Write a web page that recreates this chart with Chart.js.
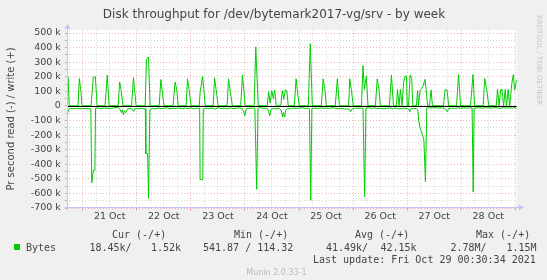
<!DOCTYPE html>
<html>
<head>
<meta charset="utf-8">
<script src="https://cdn.jsdelivr.net/npm/chart.js@4.4.1/dist/chart.umd.min.js"></script>
<style>
  html, body { margin: 0; padding: 0; background: #F0F0F0; }
  canvas { display: block; }
</style>
</head>
<body>
<canvas id="diskChart" width="547" height="280"></canvas>
<script>
// Time axis: hours since 20 Oct 00:00. Values in k (1000 bytes/s).
const writeHours = [
  16.94, 17.5, 18.0,
  21.9, 22.5, 23.1, 23.7,
  27.7, 28.7, 29.6, 30.4,
  33.9, 34.9, 35.7,
  39.7, 40.4, 41.0, 41.9,
  45.7, 46.5, 47.0, 47.7,
  51.7, 52.3, 53.2, 53.9,
  57.9, 58.7, 59.2, 60.1,
  64.1, 65.0, 65.7, 66.4,
  69.9, 70.5, 71.2, 72.1,
  75.7, 76.1, 77.2, 78.4,
  81.9, 82.5, 83.2, 84.1,
  88.1, 88.7, 89.5, 90.4,
  94.1, 94.9, 96.1,
  100.1, 100.8, 101.9,
  105.9, 106.5, 107.2, 107.9, 108.6, 109.2, 109.9,
  111.9, 112.6, 113.2, 113.9, 114.6, 115.2,
  117.9, 118.7, 119.2, 120.1,
  124.1, 125.0, 125.9,
  129.9, 130.7, 131.5, 132.1,
  136.1, 137.0, 137.9,
  142.0, 142.5, 143.2, 144.1,
  147.7, 148.4, 149.0, 149.9, 150.6,
  153.9, 154.7, 155.5, 156.1,
  160.1, 161.0, 161.9,
  163.2, 163.7, 164.4, 165.0, 165.7, 166.4, 167.0, 167.7, 168.0,
  168.6, 169.3, 170.0, 170.5,
  172.1, 172.6, 173.0, 173.7, 174.4, 175.1, 175.9, 176.4, 177.1,
  177.9, 178.6, 179.2,
  184.1, 184.8, 185.7, 186.4,
  189.9, 190.8, 191.7,
  196.1, 197.2, 197.9,
  201.7, 202.4, 203.3, 204.2,
  207.5, 208.1, 208.8, 209.5, 210.1, 210.8, 211.5, 212.1, 212.8, 213.5,
  214.4, 215.1, 215.7, 216.6
];
const writeValues = [
  212, 200, 1,
  1, 188, 113, 1,
  1, 198, 200, 1,
  1, 212, 1,
  1, 164, 113, 1,
  1, 193, 113, 1,
  1, 320, 335, 1,
  1, 181, 113, 1,
  1, 164, 113, 1,
  1, 186, 113, 1,
  1, 90, 204, 1,
  1, 193, 113, 1,
  1, 186, 100, 1,
  1, 213, 1,
  1, 405, 1,
  1, 100, 20, 105, 50, 110, 1,
  1, 105, 45, 110, 105, 1,
  1, 186, 113, 1,
  1, 426, 1,
  1, 186, 111, 1,
  1, 186, 1,
  1, 186, 113, 1,
  1, 277, 113, 204, 1,
  1, 186, 113, 1,
  1, 212, 1,
  1, 113, 1, 113, 1, 160, 204, 204, 1,
  1, 212, 190, 1,
  1, 105, 1, 105, 120, 140, 182, 110, 1,
  1, 110, 1,
  1, 110, 110, 1,
  1, 215, 1,
  1, 215, 1,
  1, 188, 113, 1,
  1, 113, 1, 113, 113, 1, 113, 1, 113, 1,
  150, 215, 110, 180
];

const readHours = [
  16.94, 17.7, 18.4, 19.7, 21.0, 22.4, 23.7, 25.0, 26.4, 27.6,
  28.0, 28.7, 29.4, 29.7, 30.8, 32.1, 33.5, 34.8, 36.1, 37.5,
  38.8, 39.7, 40.6, 41.2, 41.6, 42.1, 42.5, 43.2, 43.9, 45.0,
  45.9, 46.6, 47.2, 48.6, 49.9, 51.2, 51.8, 52.0, 52.8, 53.2,
  53.8, 54.8, 56.1, 57.5, 58.8, 60.1, 61.5, 62.8, 64.1, 65.5,
  66.8, 68.1, 69.5, 70.8, 72.1, 73.5, 74.8, 75.9, 76.1, 77.3,
  77.5, 78.8, 80.1, 81.5, 82.8, 84.1, 85.5, 86.8, 88.1, 89.5,
  90.8, 92.2, 93.5, 94.8, 95.5, 95.9, 96.6, 97.9, 99.2, 100.4,
  101.2, 101.8, 102.8, 104.2, 105.5, 106.4, 107.0, 107.5, 108.6, 109.9,
  111.2, 112.1, 112.7, 113.1, 113.6, 114.1, 114.8, 116.1, 117.5, 118.8,
  120.1, 121.5, 122.8, 124.1, 124.6, 125.2, 125.7, 126.8, 128.1, 129.5,
  130.8, 132.1, 133.5, 134.8, 136.1, 137.5, 138.8, 140.1, 141.5, 142.4,
  142.9, 143.5, 144.6, 145.9, 147.2, 148.4, 149.1, 149.7, 150.8, 152.1,
  153.5, 154.8, 156.1, 157.5, 158.8, 160.1, 161.5, 162.8, 164.1, 165.5,
  166.8, 168.1, 168.8, 169.1, 169.7, 170.8, 172.1, 172.7, 173.2, 173.7,
  174.3, 175.4, 176.1, 176.7, 177.9, 179.2, 180.6, 181.9, 183.2, 184.6,
  185.2, 185.8, 186.4, 187.7, 189.0, 190.4, 191.7, 193.0, 194.4, 195.7,
  196.8, 197.3, 197.7, 198.8, 200.2, 201.5, 202.8, 204.2, 205.5, 206.8,
  208.1, 209.5, 210.8, 212.1, 213.5, 214.8, 215.7, 216.6
];
const readValues = [
  -81, -25, -18, -20, -16, -18, -20, -17, -19, -20,
  -528, -441, -441, -15, -14, -18, -15, -16, -18, -14,
  -12, -10, -25, -45, -25, -62, -35, -45, -20, -18,
  -22, -38, -18, -20, -17, -19, -20, -327, -327, -633,
  -28, -17, -20, -15, -19, -17, -12, -20, -16, -18,
  -14, -20, -15, -18, -14, -20, -16, -15, -505, -505,
  -20, -16, -18, -14, -22, -12, -18, -15, -20, -14,
  -18, -16, -14, -18, -40, -69, -20, -16, -15, -15,
  -572, -15, -12, -16, -18, -25, -69, -25, -18, -20,
  -16, -30, -76, -45, -76, -30, -18, -20, -14, -18,
  -15, -12, -18, -17, -20, -647, -18, -15, -18, -14,
  -17, -15, -18, -13, -16, -19, -16, -20, -22, -25,
  -40, -22, -16, -15, -16, -15, -624, -15, -12, -17,
  -14, -19, -16, -20, -17, -14, -18, -15, -20, -18,
  -14, -20, -25, -40, -20, -16, -18, -25, -110, -150,
  -175, -232, -520, -15, -12, -14, -12, -15, -13, -18,
  -25, -40, -18, -15, -17, -14, -16, -12, -15, -13,
  -15, -590, -15, -14, -13, -16, -12, -14, -15, -12,
  -14, -16, -12, -15, -13, -16, -10, -18
];

const dayLabels = ['20 Oct', '21 Oct', '22 Oct', '23 Oct', '24 Oct', '25 Oct', '26 Oct', '27 Oct', '28 Oct'];
const legendHeaders = ['Cur (-/+)', 'Min (-/+)', 'Avg (-/+)', 'Max (-/+)'];
const legendValues = ['18.45k/', '1.52k', '541.87 / 114.32', '41.49k/', '42.15k', '2.78M/', '1.15M'];

const LINE_GREEN = '#00CC00';
const MAJOR_GRID = 'rgba(228, 120, 120, 0.55)';
const MINOR_GRID = 'rgba(150, 150, 150, 0.4)';
const AXIS_COLOR = '#C4C4F4';
const TEXT_COLOR = '#444';

// Munin style frame: backgrounds, zero rule, arrows, legend text
const muninFrame = {
  id: 'muninFrame',
  beforeDraw(chart) {
    const { ctx, chartArea: a } = chart;
    ctx.save();
    ctx.fillStyle = '#F0F0F0';
    ctx.fillRect(0, 0, chart.width, chart.height);
    ctx.fillStyle = '#FFFFFF';
    ctx.fillRect(a.left, a.top, a.right - a.left, a.bottom - a.top);
    ctx.restore();
  },
  afterDatasetsDraw(chart) {
    const { ctx, chartArea: a, scales } = chart;
    const y0 = Math.round(scales.y.getPixelForValue(0)) + 0.5;
    ctx.save();
    // zero line
    ctx.strokeStyle = '#000';
    ctx.lineWidth = 1;
    ctx.beginPath();
    ctx.moveTo(a.left + 1, y0);
    ctx.lineTo(a.right, y0);
    ctx.stroke();
    // axes with arrows
    const ax = Math.round(a.left) + 0.5;
    const ay = Math.round(a.bottom) - 0.5;
    ctx.strokeStyle = AXIS_COLOR;
    ctx.fillStyle = AXIS_COLOR;
    ctx.beginPath();
    ctx.moveTo(ax, a.bottom + 2);
    ctx.lineTo(ax, a.top - 2);
    ctx.moveTo(a.left - 2, ay);
    ctx.lineTo(a.right + 3, ay);
    ctx.stroke();
    ctx.beginPath();
    ctx.moveTo(ax - 3, a.top - 1);
    ctx.lineTo(ax + 3, a.top - 1);
    ctx.lineTo(ax, a.top - 6);
    ctx.closePath();
    ctx.fill();
    ctx.beginPath();
    ctx.moveTo(a.right + 2, ay - 3);
    ctx.lineTo(a.right + 2, ay + 3);
    ctx.lineTo(a.right + 7, ay);
    ctx.closePath();
    ctx.fill();
    ctx.restore();
  },
  afterDraw(chart) {
    const { ctx } = chart;
    ctx.save();
    ctx.textBaseline = 'middle';

    // title
    ctx.fillStyle = TEXT_COLOR;
    ctx.font = '12px "DejaVu Sans"';
    ctx.textAlign = 'center';
    ctx.fillText('Disk throughput for /dev/bytemark2017-vg/srv - by week', 274, 14.5);

    // vertical rrdtool credit
    ctx.save();
    ctx.translate(538.5, 15);
    ctx.rotate(Math.PI / 2);
    ctx.textAlign = 'left';
    ctx.fillStyle = '#C6C6C6';
    ctx.font = '7px "DejaVu Sans"';
    ctx.fillText('RRDTOOL / TOBI OETIKER', 0, 0);
    ctx.restore();

    // legend
    ctx.textAlign = 'left';
    ctx.fillStyle = TEXT_COLOR;
    ctx.font = '10px "DejaVu Sans Mono"';
    const headX = [112, 234, 355, 476];
    legendHeaders.forEach((h, i) => ctx.fillText(h, headX[i], 235));
    ctx.fillStyle = LINE_GREEN;
    ctx.fillRect(14, 244, 6, 6);
    ctx.fillStyle = TEXT_COLOR;
    ctx.fillText('Bytes', 26, 248);
    const valX = [89.5, 151, 203, 326, 380.5, 450.5, 506.5];
    legendValues.forEach((v, i) => ctx.fillText(v, valX[i], 248));
    ctx.fillText('Last update: Fri Oct 29 00:30:34 2021', 313, 260.5);

    ctx.fillStyle = '#BBBBBB';
    ctx.font = '8px "DejaVu Sans"';
    ctx.textAlign = 'center';
    ctx.fillText('Munin 2.0.33-1', 276.5, 272.5);
    ctx.restore();
  }
};

function toPoints(hours, values) {
  return hours.map((h, i) => ({ x: h, y: values[i] }));
}

const ctx = document.getElementById('diskChart').getContext('2d');
new Chart(ctx, {
  type: 'line',
  data: {
    datasets: [
      {
        label: 'write',
        data: toPoints(writeHours, writeValues),
        borderColor: LINE_GREEN,
        borderWidth: 1,
        pointRadius: 0,
        tension: 0,
        fill: false
      },
      {
        label: 'read',
        data: toPoints(readHours, readValues),
        borderColor: LINE_GREEN,
        borderWidth: 1,
        pointRadius: 0,
        tension: 0,
        fill: false
      }
    ]
  },
  options: {
    responsive: false,
    animation: false,
    devicePixelRatio: 1,
    layout: { padding: { left: 0, top: 29.8, right: 30.3, bottom: 0 } },
    plugins: {
      legend: { display: false },
      tooltip: { enabled: false }
    },
    scales: {
      x: {
        type: 'linear',
        min: 16.94,
        max: 216.6,
        afterFit(scale) { scale.height = 72; },
        border: { display: false, dash: [1, 2] },
        grid: {
          color: c => (c.tick && c.tick.value % 24 === 0) ? MAJOR_GRID : MINOR_GRID,
          tickColor: c => (c.tick && c.tick.value % 24 === 0) ? MAJOR_GRID : 'rgba(0,0,0,0)',
          tickLength: 3,
          lineWidth: 1
        },
        ticks: {
          stepSize: 6,
          includeBounds: false,
          autoSkip: false,
          maxRotation: 0,
          padding: 0,
          color: TEXT_COLOR,
          font: { family: 'DejaVu Sans', size: 9.5 },
          callback: v => (v % 24 === 12) ? dayLabels[Math.floor(v / 24)] : ''
        }
      },
      y: {
        min: -700,
        max: 522,
        afterFit(scale) { scale.width = 66.8; },
        border: { display: false, dash: [1, 2] },
        grid: {
          color: c => (c.tick && c.tick.value % 100 === 0) ? MAJOR_GRID : MINOR_GRID,
          tickColor: 'rgba(150,150,150,0.6)',
          tickLength: 2,
          lineWidth: 1
        },
        ticks: {
          stepSize: 50,
          includeBounds: false,
          autoSkip: false,
          padding: 4,
          color: TEXT_COLOR,
          font: { family: 'DejaVu Sans', size: 9.5 },
          callback: v => (v % 100 === 0) ? (v === 0 ? '0' : v + ' k') : ''
        },
        title: {
          display: true,
          text: 'Pr second read (-) / write (+)',
          color: TEXT_COLOR,
          font: { family: 'DejaVu Sans', size: 10 },
          padding: { top: 5.5, bottom: 0 }
        }
      }
    }
  },
  plugins: [muninFrame]
});
</script>
</body>
</html>
